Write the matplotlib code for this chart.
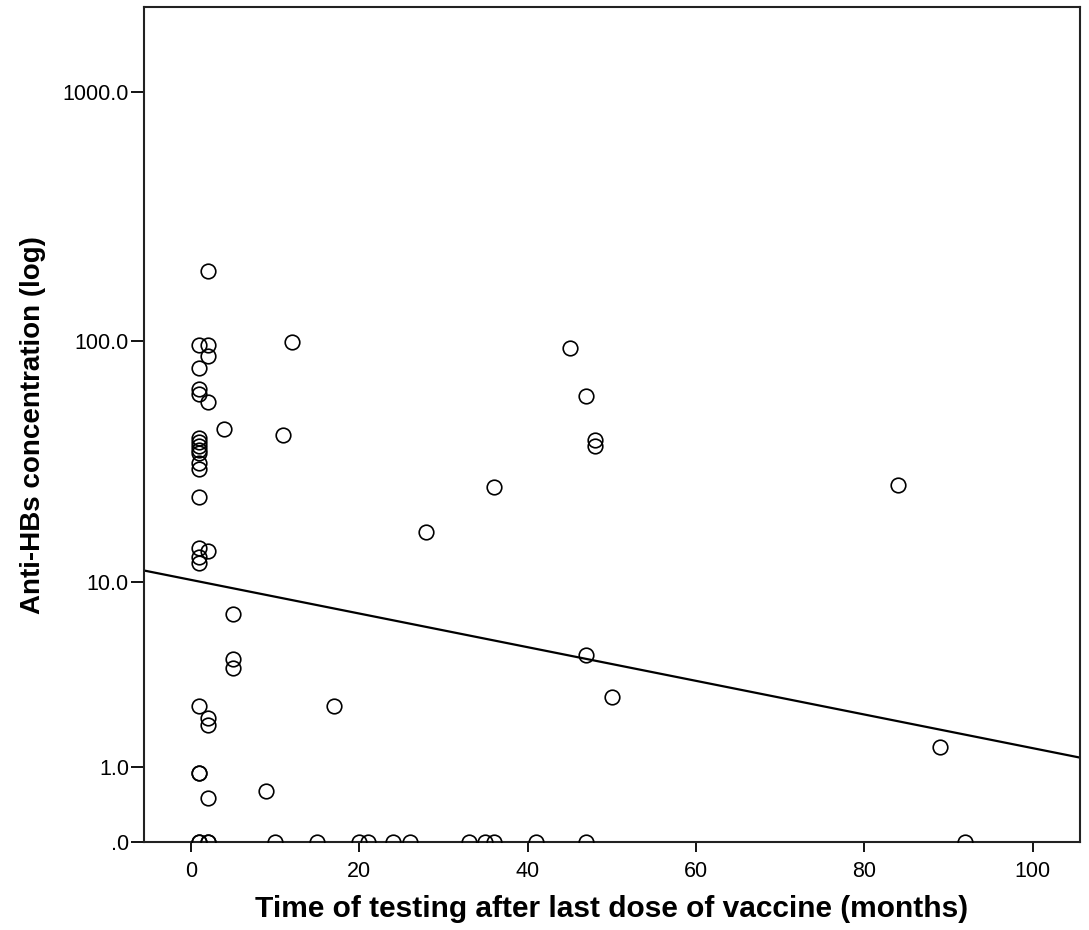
import matplotlib
matplotlib.use("Agg")
import matplotlib.pyplot as plt
import numpy as np

plt.rcParams['font.family'] = ['Liberation Sans', 'DejaVu Sans']

# Tiempo desde la última dosis (meses) y concentración de anti-HBs
months = [2, 1, 2, 2, 1, 12, 45,
          1, 1, 47, 2, 4, 11, 48, 48,
          1, 1, 1, 1, 1, 1, 1,
          1, 36, 84, 28,
          1, 2, 1, 1,
          5, 5, 5, 47, 50,
          1, 17, 2, 2, 89,
          1, 1, 9, 2,
          1, 1, 2, 2, 10, 15, 20, 21, 24, 26,
          33, 35, 36, 41, 47, 92]
anti_hbs = [191, 96, 96, 87, 78, 99, 94,
            64, 61, 60, 56.5, 44, 41.5, 39.5, 37.5,
            40.5, 39, 37.5, 36, 35, 32, 30,
            23, 25.3, 25.8, 16.5,
            14.1, 13.6, 12.8, 12.1,
            7.2, 4.4, 4.0, 4.6, 2.8,
            2.5, 2.5, 2.15, 1.95, 1.4,
            0.9, 0.9, 0.6, 0.5,
            0, 0, 0, 0, 0, 0, 0, 0, 0, 0,
            0, 0, 0, 0, 0, 0]

# Linha de ajuste em log10(y + 1)
fit_intercept = 1.050
fit_slope = -0.00673

y_ticks = [0, 1, 10, 100, 1000]
y_tick_labels = [".0", "1.0", "10.0", "100.0", "1000.0"]
x_ticks = [0, 20, 40, 60, 80, 100]


def fwd(y):
    return np.log10(np.maximum(np.asarray(y, dtype=float) + 1, 1e-12))


def inv(v):
    return 10 ** np.asarray(v, dtype=float) - 1


fig = plt.figure(figsize=(10.89, 9.30), dpi=100)
ax = fig.add_axes([0.1318, 0.0941, 0.9917 - 0.1318, 0.9925 - 0.0941])
ax.set_yscale('function', functions=(fwd, inv))

xlim = (-5.6, 105.6)
ax.set_xlim(*xlim)
ax.set_ylim(0, 2187)

# Reta de regressão
xs = np.linspace(xlim[0], xlim[1], 200)
ax.plot(xs, inv(fit_intercept + fit_slope * xs), color='black', lw=1.6, zorder=2)

# Pontos
ax.plot(months, anti_hbs, linestyle='none', marker='o', ms=10.5,
        mfc='none', mec='black', mew=1.2, zorder=3)

ax.set_yticks(y_ticks)
ax.set_yticklabels(y_tick_labels)
ax.yaxis.set_minor_locator(matplotlib.ticker.NullLocator())
ax.set_xticks(x_ticks)
ax.tick_params(axis='both', labelsize=15.5, width=1.3, colors='black')
ax.tick_params(axis='x', length=7, pad=6)
ax.tick_params(axis='y', length=9.5, pad=1)

for s in ax.spines.values():
    s.set_linewidth(1.5)
    s.set_color('#222222')

ax.set_xlabel("Time of testing after last dose of vaccine (months)",
              fontsize=21.5, fontweight='bold', labelpad=10)
ax.set_ylabel("Anti-HBs concentration (log)",
              fontsize=20, fontweight='bold', labelpad=12)

fig.savefig("out.png", dpi=100, facecolor='white')
